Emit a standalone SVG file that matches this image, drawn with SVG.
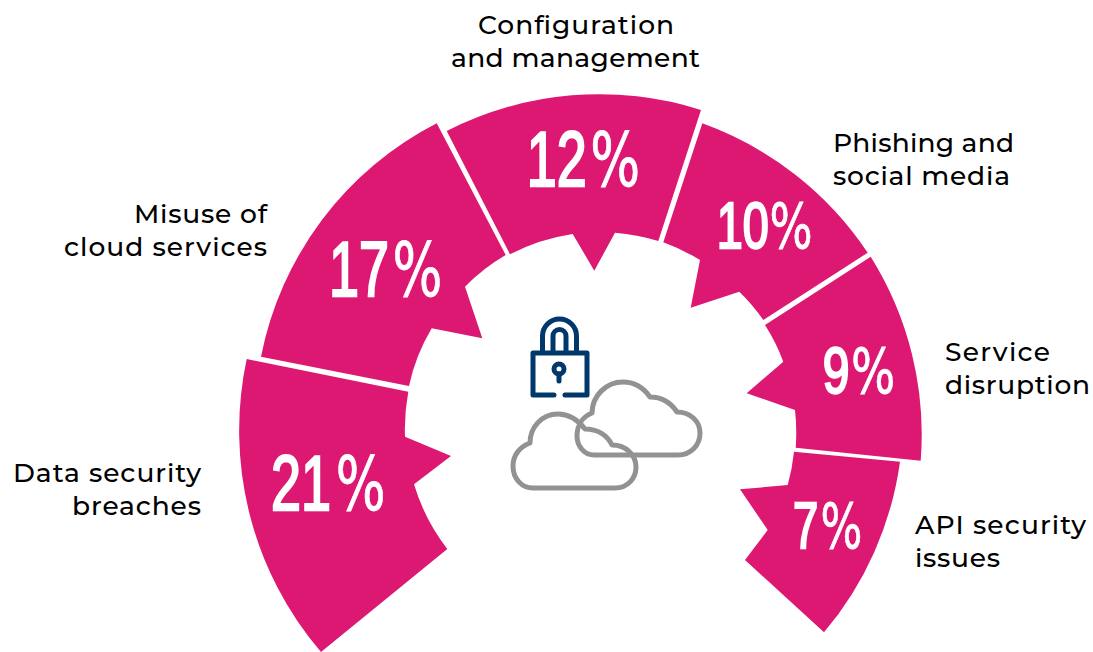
<svg xmlns="http://www.w3.org/2000/svg" width="1093" height="652" viewBox="0 0 1093 652">
<style>
.s{fill:#dc1873}
.l{font-family:"Montserrat","Open Sans","Liberation Sans",sans-serif;font-size:26.5px;font-weight:500;fill:#000}
.p{font-family:"Liberation Sans Narrow","Liberation Sans",sans-serif;font-size:77px;fill:#fff;stroke:#fff;stroke-width:2.5}
.q{font-size:65px}
.p tspan{font-family:"DejaVu Sans",sans-serif;font-size:75px;stroke:#fff;stroke-width:.8}
.q tspan{font-size:63px}
.c{fill:none;stroke:#919392;stroke-width:5;stroke-linejoin:round}
.k{fill:none;stroke:#00386c;stroke-width:5;stroke-linejoin:round;stroke-linecap:round}
</style>
<g id="seg-21"><path class="s" d="M246.7 359L408.3 391.7A200 200 0 0 0 405 436.7L451 456L414 484.3A200 200 0 0 0 447.3 549L321 652A341 341 0 0 1 246.7 359Z"/><text class="p" transform="translate(271 510) scale(.7 1)">21<tspan dx="7">%</tspan></text><text class="l" x="13" y="482" textLength="188">Data security</text><text class="l" x="72" y="515" textLength="129">breaches</text></g>
<g id="seg-17"><path class="s" d="M261 356.7A335 335 0 0 1 436.7 123.3L505.7 255A190 190 0 0 0 465 286.7L482.3 338.3L431.7 328.3A190 190 0 0 0 409 386Z"/><text class="p" transform="translate(329 295.7) scale(.7 1)">17<tspan dx="5">%</tspan></text><text class="l" x="134" y="223" textLength="133">Misuse of</text><text class="l" x="64" y="256" textLength="203">cloud services</text></g>
<g id="seg-12"><path class="s" d="M446.7 131A335 335 0 0 1 701 110L658.3 241A200 200 0 0 0 615 232.7L594.3 270.7L572.7 234A200 200 0 0 0 510 254.3Z"/><text class="p" transform="translate(526.7 186) scale(.7 1)">12<tspan dx="5">%</tspan></text><text class="l" x="478" y="34" textLength="196">Configuration</text><text class="l" x="451" y="67" textLength="249">and management</text></g>
<g id="seg-10"><path class="s" d="M702.3 123.3A335 335 0 0 1 867.7 252.7L763.3 320A190 190 0 0 0 739.3 291.7L690.7 307.7L700 260A200 200 0 0 0 663.3 242.3Z"/><text class="p q" transform="translate(716.7 248) scale(.72 1)">10<tspan dx="1">%</tspan></text><text class="l" x="833" y="152" textLength="181">Phishing and</text><text class="l" x="833" y="185" textLength="177">social media</text></g>
<g id="seg-9"><path class="s" d="M870.7 256.7A335 335 0 0 1 920.7 460.7L795.7 447.7A200 200 0 0 0 795 410L746.7 393.3L783.3 361.7A190 190 0 0 0 765 325Z"/><text class="p q" transform="translate(822.7 393) scale(.74 1)">9<tspan dx="2">%</tspan></text><text class="l" x="945" y="361" textLength="105">Service</text><text class="l" x="945" y="394" textLength="145">disruption</text></g>
<g id="seg-7"><path class="s" d="M794 451.7L900 461.7A335 335 0 0 1 824 632.3L745 560L767.7 530L740 489.3L787.7 485A200 200 0 0 0 794 451.7Z"/><text class="p q" transform="translate(793 548) scale(.7 1)">7<tspan dx="3">%</tspan></text><text class="l" x="915" y="534" textLength="171">API security</text><text class="l" x="915" y="567" textLength="85">issues</text></g>
<g id="icon">
<path class="k" d="M542.5 352V336a17 17 0 0 1 34 0V352M553 352V336a6.5 6.5 0 0 1 13 0V352"/>
<path class="k" d="M554 395H533V353H587V395H565"/>
<circle class="k" cx="559" cy="369" r="5" stroke-width="4"/>
<path class="k" d="M559 374V381"/>
<path class="c" d="M533 488H615C628 488 636 478 636 467C636 455 626 445 612 445C607 435 597 429 585 429C578 420 569 414 558 414C541 414 530 428 530 443C519 447 513 456 513 466C513 479 522 488 533 488Z"/>
<path class="c" d="M594 455H678C691 455 700 445 700 433C700 421 690 412 677 412C671 403 662 397 650 397C643 387 634 382 623 382C606 382 592 396 592 413C582 417 577 426 577 436C577 447 585 455 594 455Z"/>
</g>
<g id="connectors"></g>
</svg>
